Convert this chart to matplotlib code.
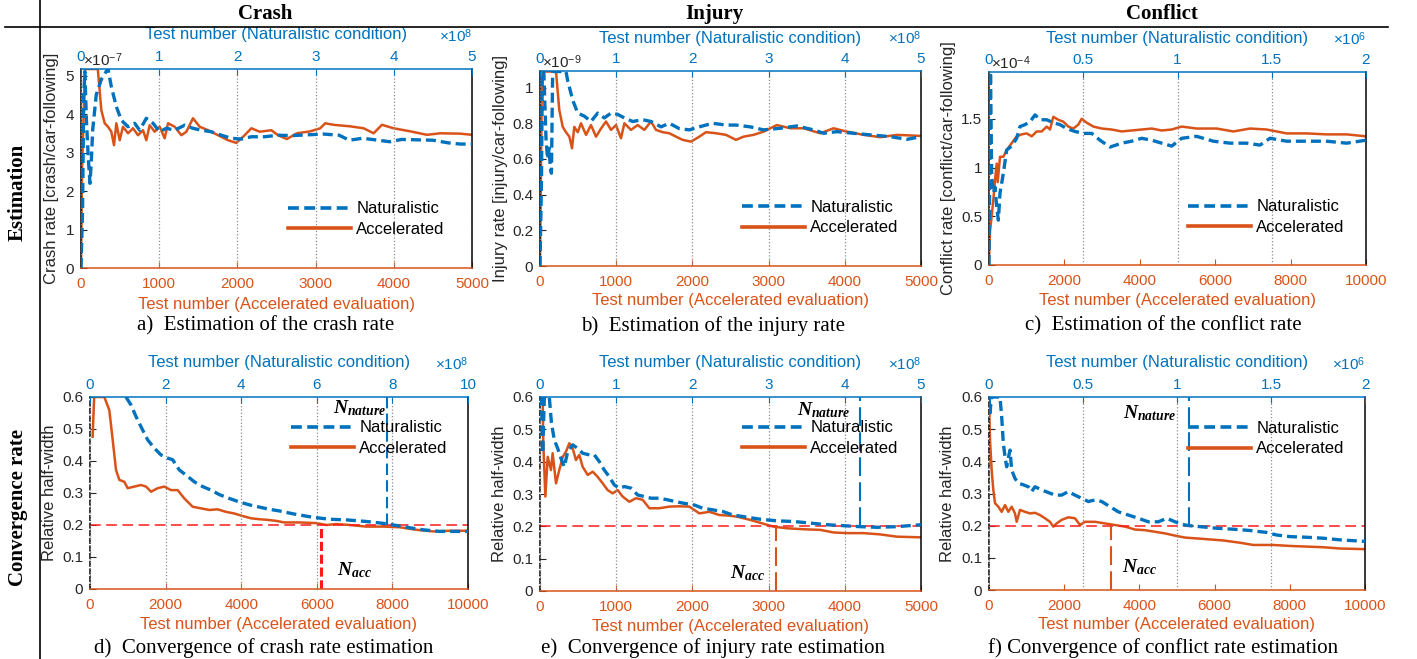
import matplotlib
matplotlib.use('Agg')
import matplotlib.pyplot as plt
from matplotlib.lines import Line2D
from matplotlib.ticker import FuncFormatter

plt.rcParams['font.family'] = ['Liberation Sans', 'DejaVu Sans']
plt.rcParams['mathtext.fontset'] = 'custom'
plt.rcParams['mathtext.rm'] = 'Liberation Sans'
plt.rcParams['mathtext.it'] = 'Liberation Serif:italic:bold'
plt.rcParams['mathtext.bf'] = 'Liberation Serif:bold'

BLUE = '#0072BD'
ORANGE = '#D95319'
RED = '#FF1A1A'
DARK = '#262626'
W, H = 1417, 659

# ---- a) crash rate estimate (x1e-7) ----
a_acc_x = [0, 13, 50, 215, 260, 303, 345, 388, 422, 452, 495, 537, 601, 665, 729, 793, 835, 878, 942, 1006,
           1070, 1113, 1198, 1283, 1347, 1432, 1518, 1624, 1752, 1880, 1986, 2093, 2178, 2285, 2434, 2519,
           2632, 2760, 2931, 3059, 3123, 3230, 3443, 3614, 3742, 3848, 3997, 4211, 4424, 4595, 4851, 5000]
a_acc_y = [0, 2.5, 5.17, 5.17, 4.1, 3.76, 3.67, 3.54, 3.19, 3.76, 3.32, 3.67, 3.50, 3.63, 3.45, 3.58, 3.32, 3.71,
           3.54, 3.67, 3.37, 3.76, 3.67, 3.45, 3.54, 3.89, 3.67, 3.58, 3.45, 3.32, 3.25, 3.45, 3.63, 3.54, 3.58,
           3.45, 3.35, 3.5, 3.55, 3.63, 3.76, 3.72, 3.68, 3.63, 3.5, 3.72, 3.63, 3.55, 3.46, 3.5, 3.49, 3.46]
a_nat_x = [0, 0.02, 0.035, 0.05, 0.07, 0.095, 0.115, 0.13, 0.15, 0.195, 0.26, 0.345, 0.388, 0.452, 0.516, 0.601,
           0.686, 0.75, 0.835, 0.921, 1.006, 1.091, 1.198, 1.326, 1.432, 1.539, 1.667, 1.794, 1.922, 2.05, 2.178,
           2.349, 2.519, 2.7, 2.9, 3.1, 3.3, 3.43, 3.6, 3.8, 3.95, 4.1, 4.3, 4.5, 4.7, 4.85, 5.0]
a_nat_y = [0, 1.5, 4.5, 5.1, 3.8, 2.8, 2.2, 2.7, 3.6, 4.5, 4.9, 5.18, 4.71, 4.19, 3.84, 3.67, 3.76, 3.58, 3.89,
           3.76, 3.54, 3.63, 3.58, 3.71, 3.63, 3.58, 3.54, 3.45, 3.37, 3.35, 3.41, 3.41, 3.45, 3.44, 3.46, 3.48,
           3.45, 3.32, 3.37, 3.32, 3.28, 3.34, 3.33, 3.32, 3.25, 3.22, 3.22]

# ---- b) injury rate estimate (x1e-9) ----
b_acc_x = [0, 26, 40, 210, 253, 298, 341, 385, 420, 450, 495, 538, 604, 669, 735, 800, 866, 932, 997, 1063,
           1107, 1194, 1282, 1369, 1457, 1522, 1610, 1697, 1785, 1872, 1982, 2091, 2178, 2310, 2441, 2572,
           2671, 2802, 2933, 3108, 3284, 3459, 3678, 3853, 4028, 4247, 4466, 4685, 5000]
b_acc_y = [0, 1.09, 1.09, 1.09, 0.875, 0.78, 0.75, 0.725, 0.66, 0.78, 0.75, 0.80, 0.735, 0.79, 0.725, 0.77, 0.81,
           0.763, 0.79, 0.716, 0.80, 0.763, 0.79, 0.763, 0.81, 0.763, 0.75, 0.744, 0.725, 0.707, 0.697, 0.725,
           0.75, 0.744, 0.735, 0.707, 0.725, 0.735, 0.753, 0.79, 0.772, 0.772, 0.744, 0.772, 0.753, 0.735, 0.722,
           0.735, 0.729]
b_nat_x = [0, 0.02, 0.03, 0.05, 0.08, 0.1, 0.12, 0.135, 0.15, 0.166, 0.22, 0.341, 0.363, 0.429, 0.495, 0.582,
           0.669, 0.757, 0.844, 0.932, 1.019, 1.107, 1.216, 1.347, 1.457, 1.588, 1.697, 1.828, 1.96, 2.091, 2.266,
           2.441, 2.572, 2.758, 2.933, 3.152, 3.371, 3.59, 3.722, 3.897, 4.116, 4.335, 4.597, 4.816, 5.0]
b_nat_y = [0, 0.5, 1.09, 1.09, 0.7, 0.6, 0.66, 0.55, 0.52, 1.09, 1.09, 1.09, 1.04, 0.93, 0.857, 0.84, 0.81, 0.857,
           0.83, 0.857, 0.85, 0.83, 0.81, 0.82, 0.81, 0.78, 0.80, 0.77, 0.763, 0.78, 0.80, 0.79, 0.79, 0.78,
           0.763, 0.772, 0.785, 0.763, 0.744, 0.753, 0.744, 0.735, 0.725, 0.71, 0.725]

# ---- c) conflict rate estimate (x1e-4) ----
c_acc_x = [0, 27, 70, 115, 159, 204, 230, 292, 380, 469, 602, 734, 867, 1000, 1133, 1265, 1398, 1531, 1618, 1706,
           1839, 1972, 2104, 2237, 2369, 2458, 2591, 2768, 2989, 3254, 3520, 3785, 4050, 4316, 4581, 4846, 5111,
           5508, 6039, 6481, 6923, 7365, 7896, 8426, 8957, 9487, 10000]
c_acc_y = [0.05, 0.35, 0.5, 0.67, 0.87, 1.04, 0.85, 1.11, 1.11, 1.18, 1.25, 1.32, 1.34, 1.35, 1.32, 1.37, 1.37,
           1.42, 1.39, 1.52, 1.49, 1.47, 1.42, 1.40, 1.44, 1.50, 1.46, 1.42, 1.40, 1.39, 1.37, 1.38, 1.39, 1.40,
           1.38, 1.39, 1.42, 1.40, 1.40, 1.37, 1.40, 1.39, 1.35, 1.35, 1.34, 1.34, 1.32]
c_nat_x = [0, 0.004, 0.008, 0.0142, 0.023, 0.0318, 0.0408, 0.0496, 0.0584, 0.076, 0.0938, 0.1204, 0.1468, 0.1644,
           0.191, 0.2176, 0.2442, 0.2706, 0.3062, 0.3412, 0.3766, 0.412, 0.4562, 0.5004, 0.5448, 0.589, 0.642,
           0.704, 0.757, 0.81, 0.8632, 0.9162, 0.9692, 1.0222, 1.1016, 1.1902, 1.2786, 1.367, 1.4376, 1.4908,
           1.5792, 1.6852, 1.7914, 1.8974, 2.0]
c_nat_y = [0, 1.0, 1.98, 0.91, 0.74, 0.80, 0.60, 0.46, 0.74, 0.94, 1.18, 1.22, 1.30, 1.42, 1.44, 1.47, 1.54, 1.49,
           1.49, 1.46, 1.44, 1.40, 1.37, 1.35, 1.35, 1.28, 1.21, 1.25, 1.27, 1.30, 1.28, 1.25, 1.22, 1.30, 1.32,
           1.27, 1.25, 1.25, 1.23, 1.30, 1.27, 1.27, 1.27, 1.25, 1.28]

# ---- d) crash rate convergence ----
d_acc_x = [70, 110, 379, 511, 600, 688, 776, 908, 997, 1173, 1349, 1482, 1614, 1790, 1966, 2143, 2319, 2496, 2716,
           2937, 3157, 3378, 3598, 3819, 4039, 4260, 4480, 4701, 4921, 5142, 5547, 5988, 6252, 6517, 6869, 7310,
           7751, 8192, 8633, 9074, 9515, 10000]
d_acc_y = [0.476, 0.6, 0.6, 0.559, 0.466, 0.372, 0.341, 0.335, 0.315, 0.320, 0.325, 0.320, 0.304, 0.315, 0.320,
           0.309, 0.309, 0.283, 0.257, 0.252, 0.247, 0.249, 0.241, 0.236, 0.228, 0.221, 0.218, 0.216, 0.213, 0.208,
           0.208, 0.206, 0.2, 0.203, 0.2, 0.195, 0.195, 0.193, 0.185, 0.18, 0.182, 0.182]
d_nat_x = [0.952, 1.085, 1.217, 1.349, 1.526, 1.702, 1.878, 2.055, 2.187, 2.363, 2.54, 2.76, 2.981, 3.201, 3.422,
           3.686, 3.951, 4.216, 4.48, 4.745, 5.009, 5.37, 5.899, 6.34, 6.781, 7.31, 7.84, 8.369, 8.81, 9.25, 10.0]
d_nat_y = [0.6, 0.575, 0.539, 0.507, 0.466, 0.44, 0.419, 0.409, 0.404, 0.372, 0.356, 0.335, 0.320, 0.309, 0.295,
           0.283, 0.272, 0.263, 0.256, 0.249, 0.244, 0.235, 0.224, 0.218, 0.216, 0.211, 0.204, 0.193, 0.185, 0.18,
           0.18]

# ---- e) injury rate convergence ----
e_acc_x = [0, 13, 35, 43, 70, 101, 144, 166, 210, 253, 298, 341, 385, 429, 472, 516, 560, 626, 692, 757, 823, 888,
           954, 1019, 1085, 1172, 1260, 1347, 1435, 1566, 1697, 1828, 1960, 2091, 2222, 2353, 2484, 2583, 2758,
           2933, 3065, 3240, 3459, 3678, 3853, 4028, 4247, 4466, 4685, 5000]
e_acc_y = [0.6, 0.6, 0.6, 0.457, 0.292, 0.415, 0.374, 0.426, 0.333, 0.374, 0.415, 0.431, 0.457, 0.441, 0.405,
           0.421, 0.384, 0.359, 0.369, 0.353, 0.333, 0.312, 0.302, 0.312, 0.292, 0.276, 0.287, 0.282, 0.256, 0.256,
           0.261, 0.262, 0.261, 0.240, 0.245, 0.235, 0.233, 0.23, 0.22, 0.208, 0.199, 0.194, 0.191, 0.189, 0.181,
           0.179, 0.179, 0.175, 0.168, 0.166]
e_nat_x = [0, 0.02, 0.035, 0.057, 0.1, 0.122, 0.15, 0.188, 0.232, 0.276, 0.319, 0.363, 0.429, 0.495, 0.56, 0.648,
           0.713, 0.779, 0.844, 0.91, 0.975, 1.041, 1.107, 1.194, 1.282, 1.369, 1.457, 1.566, 1.675, 1.785, 1.894,
           2.025, 2.135, 2.266, 2.397, 2.529, 2.671, 2.89, 3.109, 3.327, 3.546, 3.765, 3.984, 4.203, 4.422, 4.685,
           5.0]
e_nat_y = [0.6, 0.6, 0.426, 0.6, 0.6, 0.6, 0.52, 0.467, 0.441, 0.41, 0.384, 0.431, 0.452, 0.441, 0.426, 0.421,
           0.421, 0.4, 0.374, 0.353, 0.328, 0.318, 0.323, 0.318, 0.297, 0.292, 0.287, 0.287, 0.282, 0.276, 0.271,
           0.266, 0.256, 0.251, 0.246, 0.235, 0.23, 0.222, 0.217, 0.215, 0.21, 0.205, 0.202, 0.199, 0.197, 0.199,
           0.205]

# ---- f) conflict rate convergence ----
f_acc_x = [0, 27, 71, 115, 160, 248, 337, 426, 514, 603, 691, 736, 824, 957, 1090, 1223, 1356, 1489, 1622, 1710,
           1799, 1932, 2109, 2287, 2420, 2553, 2819, 3085, 3351, 3617, 3883, 4149, 4415, 4681, 4947, 5213, 5788,
           6230, 6673, 7027, 7558, 8000, 8442, 8885, 9327, 10000]
f_acc_y = [0.59, 0.466, 0.373, 0.311, 0.27, 0.259, 0.243, 0.264, 0.243, 0.259, 0.238, 0.212, 0.249, 0.243, 0.238,
           0.24, 0.233, 0.223, 0.212, 0.197, 0.207, 0.218, 0.226, 0.223, 0.202, 0.212, 0.212, 0.207, 0.202, 0.197,
           0.188, 0.186, 0.181, 0.176, 0.169, 0.163, 0.158, 0.154, 0.147, 0.14, 0.14, 0.137, 0.135, 0.133, 0.129,
           0.127]
f_nat_x = [0, 0.006, 0.012, 0.02, 0.04, 0.0584, 0.0674, 0.0762, 0.0852, 0.094, 0.1028, 0.1118, 0.1206, 0.1382,
           0.156, 0.1826, 0.2092, 0.2268, 0.2446, 0.28, 0.3156, 0.351, 0.3864, 0.4218, 0.4574, 0.493, 0.5284,
           0.5638, 0.5994, 0.6436, 0.688, 0.7412, 0.7944, 0.8476, 0.9008, 0.9452, 0.9894, 1.025, 1.066, 1.1222,
           1.2106, 1.2992, 1.3876, 1.4762, 1.5292, 1.6, 1.6884, 1.777, 1.8654, 2.0]
f_nat_y = [0.6, 0.55, 0.6, 0.6, 0.6, 0.6, 0.539, 0.456, 0.415, 0.383, 0.41, 0.435, 0.373, 0.347, 0.332, 0.327,
           0.321, 0.306, 0.321, 0.311, 0.303, 0.295, 0.295, 0.306, 0.295, 0.285, 0.275, 0.28, 0.275, 0.259, 0.243,
           0.233, 0.223, 0.212, 0.212, 0.223, 0.212, 0.204, 0.2, 0.197, 0.192, 0.189, 0.185, 0.179, 0.171, 0.166,
           0.164, 0.161, 0.156, 0.151]

threshold = 0.2
n_acc = [6120, 3095, 3248]        # accelerated tests needed (d, e, f)
n_nature = [7.87, 4.2, 1.065]     # naturalistic tests needed (top-axis units)

col_titles = ['Crash', 'Injury', 'Conflict']
row_titles = ['Estimation', 'Convergence rate']
captions = ['a)  Estimation of the crash rate', 'b)  Estimation of the injury rate',
            'c)  Estimation of the conflict rate', 'd)  Convergence of crash rate estimation',
            'e)  Convergence of injury rate estimation', 'f) Convergence of conflict rate estimation']

fmt = FuncFormatter(lambda v, _: f'{v:g}')

panels = [
    dict(box=(81, 69, 472, 268), acc=(a_acc_x, a_acc_y), nat=(a_nat_x, a_nat_y),
         xticks=[0, 1000, 2000, 3000, 4000, 5000], natticks=[0, 1, 2, 3, 4, 5],
         ymax=5.17, yticks=[0, 1, 2, 3, 4, 5], ylabel='Crash rate [crash/car-following]',
         yexp='×10$^{-7}$', natexp='×10$^{8}$', leg=(0.529, 0.335), ydx=29, tdy=34, bdy=37),
    dict(box=(540, 71, 921, 266), acc=(b_acc_x, b_acc_y), nat=(b_nat_x, b_nat_y),
         xticks=[0, 1000, 2000, 3000, 4000, 5000], natticks=[0, 1, 2, 3, 4, 5],
         ymax=1.093, yticks=[0, 0.2, 0.4, 0.6, 0.8, 1], ylabel='Injury rate [injury/car-following]',
         yexp='×10$^{-9}$', natexp='×10$^{8}$', leg=(0.530, 0.341), ydx=40, tdy=33, bdy=35),
    dict(box=(989, 72, 1366, 265), acc=(c_acc_x, c_acc_y), nat=(c_nat_x, c_nat_y),
         xticks=[0, 2000, 4000, 6000, 8000, 10000], natticks=[0, 0.5, 1, 1.5, 2],
         ymax=1.98, yticks=[0, 0.5, 1, 1.5], ylabel='Conflict rate [conflict/car-following]',
         yexp='×10$^{-4}$', natexp='×10$^{6}$', leg=(0.528, 0.340), ydx=40, tdy=33, bdy=35),
    dict(box=(90, 397, 468, 589), acc=(d_acc_x, d_acc_y), nat=(d_nat_x, d_nat_y),
         xticks=[0, 2000, 4000, 6000, 8000, 10000], natticks=[0, 2, 4, 6, 8, 10],
         ymax=0.6, yticks=[0, 0.1, 0.2, 0.3, 0.4, 0.5, 0.6], ylabel='Relative half-width',
         yexp=None, natexp='×10$^{8}$', leg=(0.532, 0.878), ydx=40, tdy=34, bdy=36,
         k=0, acc_col=RED, acc_lw=2.2, acc_ls=(0, (3, 1.2)), nat_ls=(0, (5.5, 2.5)),
         nn_off=(-1, 0.566, 'right'), na_off=(16, 0.059, 'left')),
    dict(box=(540, 397, 921, 591), acc=(e_acc_x, e_acc_y), nat=(e_nat_x, e_nat_y),
         xticks=[0, 1000, 2000, 3000, 4000, 5000], natticks=[0, 1, 2, 3, 4, 5],
         ymax=0.6, yticks=[0, 0.1, 0.2, 0.3, 0.4, 0.5, 0.6], ylabel='Relative half-width',
         yexp=None, natexp='×10$^{8}$', leg=(0.530, 0.879), ydx=40, tdy=34, bdy=35,
         k=1, acc_col=ORANGE, acc_lw=1.5, acc_ls=(0, (9, 3)), nat_ls=(0, (9, 3)),
         nn_off=(-10, 0.56, 'right'), na_off=(-11, 0.056, 'right')),
    dict(box=(989, 397, 1365, 590), acc=(f_acc_x, f_acc_y), nat=(f_nat_x, f_nat_y),
         xticks=[0, 2000, 4000, 6000, 8000, 10000], natticks=[0, 0.5, 1, 1.5, 2],
         ymax=0.6, yticks=[0, 0.1, 0.2, 0.3, 0.4, 0.5, 0.6], ylabel='Relative half-width',
         yexp=None, natexp='×10$^{6}$', leg=(0.529, 0.878), ydx=41, tdy=34, bdy=35,
         k=2, acc_col=ORANGE, acc_lw=1.5, acc_ls=(0, (9, 3)), nat_ls=(0, (9, 3)),
         nn_off=(-13, 0.55, 'right'), na_off=(11, 0.072, 'left')),
]

fig = plt.figure(figsize=(W / 100, H / 100), dpi=100)

for p in panels:
    l, t, r, b = p['box']
    w, h = r - l, b - t
    ax = fig.add_axes([l / W, 1 - b / H, w / W, h / H])
    ax2 = ax.twiny()
    la, = ax.plot(*p['acc'], color=ORANGE, lw=1.8, label='Accelerated')
    ln, = ax2.plot(*p['nat'], color=BLUE, lw=2.4, ls=(0, (3.0, 1.5)), label='Naturalistic')

    ax.set_xlim(p['xticks'][0], p['xticks'][-1])
    ax.set_xticks(p['xticks'])
    ax2.set_xlim(p['natticks'][0], p['natticks'][-1])
    ax2.set_xticks(p['natticks'])
    ax.set_ylim(0, p['ymax'])
    ax.set_yticks(p['yticks'])
    for axis in (ax.xaxis, ax.yaxis, ax2.xaxis):
        axis.set_major_formatter(fmt)

    ax.tick_params(axis='x', direction='in', length=4, width=0.8, colors=ORANGE, labelsize=11, pad=6.5)
    ax.tick_params(axis='y', direction='in', length=4, width=0.8, colors=DARK, labelsize=11, pad=5)
    ax2.tick_params(axis='x', direction='in', length=4, width=0.8, colors=BLUE, labelsize=11, pad=3.4)

    ax.spines['top'].set_visible(False)
    ax.spines['bottom'].set_color(ORANGE)
    ax.spines['left'].set_color('k')
    ax.spines['right'].set_color('k')
    for s in ('left', 'right', 'bottom'):
        ax2.spines[s].set_visible(False)
    ax2.spines['top'].set_color(BLUE)
    for sp in list(ax.spines.values()) + [ax2.spines['top']]:
        sp.set_linewidth(1.1)

    ax2.grid(axis='x', ls=':', color='0.55', lw=0.9)

    ax.set_xlabel('Test number (Accelerated evaluation)', color=ORANGE, fontsize=12)
    ax.xaxis.set_label_coords(0.5, -p['bdy'] / h)
    ax.xaxis.label.set_va('center')
    ax2.set_xlabel('Test number (Naturalistic condition)', color=BLUE, fontsize=12)
    ax2.xaxis.set_label_coords(0.5, 1 + p['tdy'] / h)
    ax2.xaxis.label.set_va('center')
    ax.set_ylabel(p['ylabel'], fontsize=12, color=DARK)
    ax.yaxis.set_label_coords(-p['ydx'] / w, 0.5)
    ax.yaxis.label.set_va('center')

    if p['yexp']:
        ax.annotate(p['yexp'], xy=(0, 1), xycoords='axes fraction', xytext=(2, 3),
                    textcoords='offset pixels', ha='left', va='baseline', fontsize=11, color=DARK)
    ax2.annotate(p['natexp'], xy=(1, 1), xycoords='axes fraction', xytext=(0, 27),
                 textcoords='offset pixels', ha='right', va='baseline', fontsize=11, color=BLUE)

    if 'k' in p:
        k = p['k']
        ax.spines['left'].set_linestyle((0, (3, 2)))
        ax.axhline(threshold, color=RED, lw=1.1, ls=(0, (7, 3.6)))
        ax.vlines(n_acc[k], 0, threshold, color=p['acc_col'], lw=p['acc_lw'], linestyles=[p['acc_ls']])
        ax2.vlines(n_nature[k], threshold, p['ymax'], color=BLUE, lw=1.5, linestyles=[p['nat_ls']])
        dx, yy, ha = p['nn_off']
        ax2.annotate(r'$N_{nature}$', xy=(n_nature[k], yy), xytext=(dx, 0), textcoords='offset pixels',
                     ha=ha, va='center', fontsize=14)
        dx, yy, ha = p['na_off']
        ax.annotate(r'$N_{acc}$', xy=(n_acc[k], yy), xytext=(dx, 0), textcoords='offset pixels',
                    ha=ha, va='center', fontsize=14)

    leg = ax2.legend(handles=[ln, la], loc='upper left', bbox_to_anchor=p['leg'], frameon=False,
                     fontsize=12, handlelength=3.8, handletextpad=0.3, labelspacing=0.35,
                     borderpad=0, borderaxespad=0)
    for hnd in leg.legend_handles:
        hnd.set_linewidth(2.6)

# table frame, titles and captions
fig.add_artist(Line2D([40 / W, 40 / W], [0, 1], transform=fig.transFigure, color='k', lw=1.2))
fig.add_artist(Line2D([5 / W, 1388 / W], [1 - 27 / H, 1 - 27 / H], transform=fig.transFigure, color='k', lw=1.2))

serif = ['Liberation Serif', 'DejaVu Serif']
for title, cx in zip(col_titles, [265, 714, 1162]):
    fig.text(cx / W, 1 - 14 / H, title, ha='center', va='center', family=serif, weight='bold', fontsize=15)
for title, cy in zip(row_titles, [192, 508]):
    fig.text(18 / W, 1 - cy / H, title, ha='center', va='center', family=serif, weight='bold',
             fontsize=15, rotation=90)
for cap, (cx, cy) in zip(captions, [(266, 326), (713, 326), (1163, 326), (264, 648), (713, 648), (1163, 648)]):
    fig.text(cx / W, 1 - cy / H, cap, ha='center', va='center', family=serif, fontsize=15)

fig.savefig('out.png', dpi=100)
